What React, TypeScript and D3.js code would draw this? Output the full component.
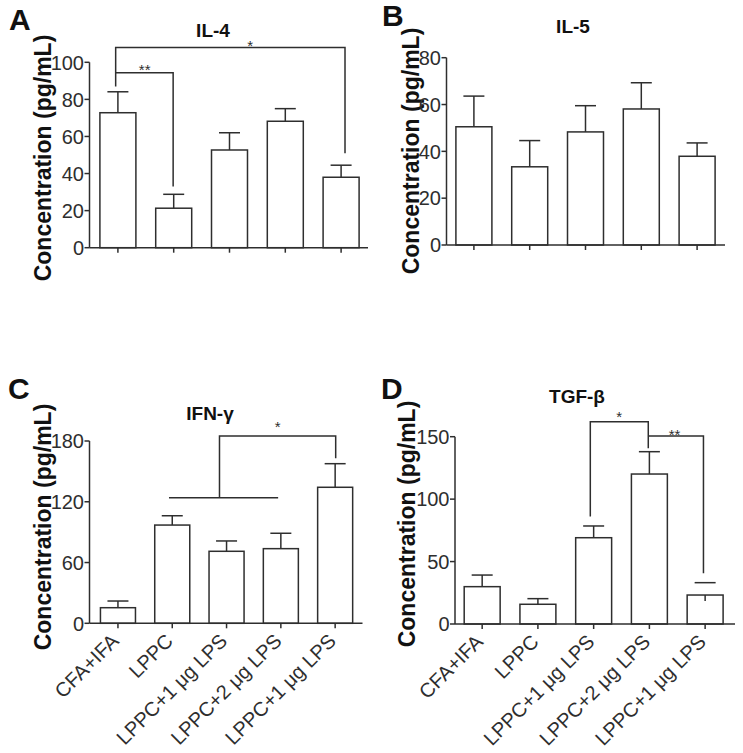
import React from "react";
import * as d3 from "d3";

// ---------- data ----------
const categories = ["CFA+IFA", "LPPC", "LPPC+1 μg LPS", "LPPC+2 μg LPS", "LPPC+1 μg LPS"];

const il4Means = [72.8, 21.3, 52.7, 68.2, 38.0];
const il4Errors = [11.3, 7.5, 9.3, 6.8, 6.5];
const il4Ticks = [0, 20, 40, 60, 80, 100];

const il5Means = [50.5, 33.4, 48.3, 58.1, 37.9];
const il5Errors = [13.1, 11.2, 11.2, 11.2, 5.7];
const il5Ticks = [0, 20, 40, 60, 80];

const ifnMeans = [15.4, 97.0, 71.1, 73.7, 134.3];
const ifnErrors = [6.6, 9.2, 10.2, 15.2, 23.3];
const ifnTicks = [0, 60, 120, 180];

const tgfMeans = [29.9, 15.8, 69.1, 120.1, 23.2];
const tgfErrors = [9.3, 4.5, 9.4, 17.9, 9.9];
const tgfTicks = [0, 50, 100, 150];
const tgfStemHidden = [false, false, false, false, true];

// significance brackets: x in category-index units, y in data units
const il4Brackets = [
  { from: -0.04, to: 4.07, top: 108, fromEnd: 87, toEnd: 51, label: "*", labelAt: 2.37, dy: 3.3 },
  { from: -0.04, to: 0.99, top: 94.4, fromEnd: null, toEnd: 33, label: "**", labelAt: 0.48, dy: 2.6 },
];
const ifnBrackets = [
  { from: 1.87, to: 4.01, top: 185, fromEnd: 124, toEnd: 163, label: "*", labelAt: 2.94, dy: -4 },
];
const ifnGroupLines = [{ from: 0.94, to: 2.95, y: 124 }];
const tgfBrackets = [
  { from: 1.94, to: 2.98, top: 162, fromEnd: 86, toEnd: 140.7, label: "*", labelAt: 2.46, dy: 0 },
  { from: 2.98, to: 3.97, top: 150.6, fromEnd: null, toEnd: 40.6, label: "**", labelAt: 3.45, dy: 4 },
];

// ---------- style ----------
const FONT = "'Liberation Sans', Arial, Helvetica, sans-serif";
const INK = "#2e2e2e";
const SW = 1.5;

type Bracket = {
  from: number; to: number; top: number; fromEnd: number | null; toEnd: number | null;
  label: string; labelAt: number; dy: number;
};

type PanelProps = {
  letter: string;
  letterPos: [number, number];
  title: string;
  titlePos: [number, number];
  yLabelPos: [number, number];
  rangeX: [number, number];
  axisX: number;
  axisEnd: number;
  zeroY: number;
  topY: number;
  ticks: number[];
  means: number[];
  errors: number[];
  stemHidden?: boolean[];
  brackets: Bracket[];
  groupLines?: { from: number; to: number; y: number }[];
  showXLabels: boolean;
};

function Panel(p: PanelProps) {
  const yMax = p.ticks[p.ticks.length - 1];
  const y = d3.scaleLinear().domain([0, yMax]).range([p.zeroY, p.topY]);
  const x = d3.scalePoint<string>().domain(d3.range(categories.length).map(String)).range(p.rangeX).padding(0.5);
  const step = x.step();
  const barW = step * 0.645;
  const capW = 21;
  const idx = d3.scaleLinear().domain([0, categories.length - 1]).range([x("0")!, x(String(categories.length - 1))!]);

  return (
    <g>
      <text x={p.letterPos[0]} y={p.letterPos[1]} fontFamily={FONT} fontWeight="bold" fontSize={30} fill="#111">{p.letter}</text>
      <text x={p.titlePos[0]} y={p.titlePos[1]} textAnchor="middle" fontFamily={FONT} fontWeight="bold" fontSize={19} fill="#111">{p.title}</text>
      <text transform={`translate(${p.yLabelPos[0]},${p.yLabelPos[1]}) rotate(-90)`} textAnchor="middle" fontFamily={FONT} fontWeight="bold" fontSize={23} fill="#111">Concentration (pg/mL)</text>

      {/* bars */}
      {p.means.map((m, i) => {
        const cx = x(String(i))!;
        return (
          <rect key={"b" + i} x={cx - barW / 2} y={y(m)} width={barW} height={y(0) - y(m)} fill="#fff" stroke={INK} strokeWidth={SW} />
        );
      })}
      {/* error bars */}
      {p.means.map((m, i) => {
        const cx = x(String(i))!;
        const hidden = p.stemHidden && p.stemHidden[i];
        return (
          <g key={"e" + i} stroke={INK} strokeWidth={SW}>
            {hidden ? (
              <line x1={cx} x2={cx} y1={y(m)} y2={y(m) + 6} />
            ) : (
              <line x1={cx} x2={cx} y1={y(m)} y2={y(m + p.errors[i])} />
            )}
            <line x1={cx - capW / 2} x2={cx + capW / 2} y1={y(m + p.errors[i])} y2={y(m + p.errors[i])} />
          </g>
        );
      })}

      {/* axes */}
      <g stroke={INK} strokeWidth={SW}>
        <line x1={p.axisX} x2={p.axisX} y1={p.topY} y2={p.zeroY} />
        <line x1={p.axisX} x2={p.axisEnd} y1={p.zeroY} y2={p.zeroY} />
        {p.ticks.map((t) => (
          <line key={"yt" + t} x1={p.axisX - 5} x2={p.axisX} y1={y(t)} y2={y(t)} />
        ))}
        {p.means.map((_, i) => (
          <line key={"xt" + i} x1={x(String(i))!} x2={x(String(i))!} y1={p.zeroY} y2={p.zeroY + 5} />
        ))}
      </g>
      {p.ticks.map((t) => (
        <text key={"yl" + t} x={p.axisX - 5.5} y={y(t)} dy="0.36em" textAnchor="end" fontFamily={FONT} fontSize={20} fill={INK}>{t}</text>
      ))}
      {p.showXLabels &&
        categories.map((c, i) => {
          const cx = x(String(i))!;
          return (
            <text key={"xl" + i} transform={`translate(${cx + 2},${p.zeroY + 19}) rotate(-45)`} textAnchor="end" fontFamily={FONT} fontSize={20} fill={INK}>{c}</text>
          );
        })}

      {/* significance */}
      <g stroke={INK} strokeWidth={SW} fill="none">
        {p.brackets.map((b, i) => {
          const x1 = idx(b.from), x2 = idx(b.to);
          let d = "";
          if (b.fromEnd !== null) d += `M${x1},${y(b.fromEnd)}V${y(b.top)}`;
          else d += `M${x1},${y(b.top)}`;
          d += `H${x2}`;
          if (b.toEnd !== null) d += `V${y(b.toEnd)}`;
          return <path key={"br" + i} d={d} />;
        })}
        {(p.groupLines || []).map((g, i) => (
          <line key={"gl" + i} x1={idx(g.from)} x2={idx(g.to)} y1={y(g.y)} y2={y(g.y)} />
        ))}
      </g>
      {p.brackets.map((b, i) => (
        <text key={"bl" + i} x={idx(b.labelAt)} y={y(b.top) + b.dy} textAnchor="middle" fontFamily={FONT} fontSize={15} fill={INK}>{b.label}</text>
      ))}
    </g>
  );
}

export default function App() {
  return (
    <svg width={743} height={753} viewBox="0 0 743 753" style={{ position: "absolute", left: 0, top: 0, background: "#fff" }}>
      <rect width={743} height={753} fill="#fff" />
      <Panel
        letter="A" letterPos={[9, 30]} title="IL-4" titlePos={[213, 37]} yLabelPos={[50.5, 158]}
        rangeX={[90, 369]} axisX={89.5} axisEnd={368} zeroY={247.7} topY={62.3}
        ticks={il4Ticks} means={il4Means} errors={il4Errors} brackets={il4Brackets} showXLabels={false}
      />
      <Panel
        letter="B" letterPos={[382, 26]} title="IL-5" titlePos={[573, 33]} yLabelPos={[419, 151]}
        rangeX={[446, 725]} axisX={446.5} axisEnd={725} zeroY={245} topY={57.7}
        ticks={il5Ticks} means={il5Means} errors={il5Errors} brackets={[]} showXLabels={false}
      />
      <Panel
        letter="C" letterPos={[8, 399]} title="IFN-γ" titlePos={[210, 420]} yLabelPos={[50.5, 527]}
        rangeX={[90.8, 362.3]} axisX={89.5} axisEnd={362.5} zeroY={623.3} topY={441}
        ticks={ifnTicks} means={ifnMeans} errors={ifnErrors} brackets={ifnBrackets} groupLines={ifnGroupLines} showXLabels={true}
      />
      <Panel
        letter="D" letterPos={[381, 399]} title="TGF-β" titlePos={[577, 403]} yLabelPos={[415, 524]}
        rangeX={[454.3, 733]} axisX={455} axisEnd={735} zeroY={624} topY={436.7}
        ticks={tgfTicks} means={tgfMeans} errors={tgfErrors} stemHidden={tgfStemHidden} brackets={tgfBrackets} showXLabels={true}
      />
    </svg>
  );
}
